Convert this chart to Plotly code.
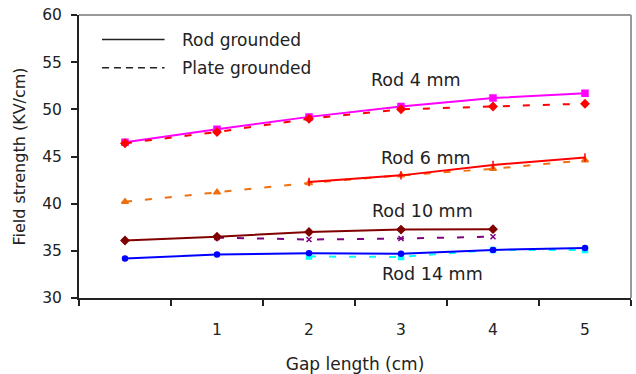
import plotly.graph_objects as go

# Data
categories = ["0.5", "1", "2", "3", "4", "5"]
tick_labels = ["", "1", "2", "3", "4", "5"]

rod4_rod = [46.5, 47.9, 49.2, 50.3, 51.2, 51.7]
rod4_plate = [46.4, 47.6, 49.0, 50.0, 50.3, 50.6]
rod6_rod = [None, None, 42.3, 43.0, 44.1, 44.9]
rod6_plate = [40.2, 41.2, 42.2, 43.0, 43.7, 44.6]
rod10_rod = [36.1, 36.5, 37.0, 37.25, 37.3, None]
rod10_plate = [None, 36.4, 36.2, 36.3, 36.5, None]
rod14_rod = [34.2, 34.6, 34.75, 34.7, 35.1, 35.3]
rod14_plate = [None, None, 34.4, 34.35, 35.1, 35.1]

series = [
    (rod4_rod, "#FF00FF", "solid", "square", 6),
    (rod4_plate, "#FF0000", "7px,13px", "diamond", 6),
    (rod6_plate, "#F07010", "7px,13px", "triangle-up", 6),
    (rod6_rod, "#FF0000", "solid", "line-ns-open", 6),
    (rod10_plate, "#800080", "7px,13px", "x-thin-open", 5),
    (rod10_rod, "#800000", "solid", "diamond", 6),
    (rod14_plate, "#00FFFF", "7px,13px", "square", 5),
    (rod14_rod, "#0000FF", "solid", "circle", 5),
]

FONT = "DejaVu Sans"
TXT = "#222222"

fig = go.Figure()
for vals, col, dash, sym, sz in series:
    fig.add_trace(go.Scatter(
        x=categories, y=vals, mode="lines+markers",
        line=dict(color=col, width=2, dash=dash),
        marker=dict(symbol=sym, size=sz, color=col, line=dict(color=col, width=1.5)),
        showlegend=False, connectgaps=False,
    ))

fig.update_layout(
    width=636, height=374,
    margin=dict(l=79, r=5, t=15, b=76),
    paper_bgcolor="white", plot_bgcolor="white",
    font=dict(family=FONT, color=TXT, size=15),
    xaxis=dict(
        type="category", range=[-0.5, 5.5], automargin=False,
        tickmode="array", tickvals=categories, ticktext=tick_labels,
        tickson="boundaries", ticks="outside", ticklen=6, tickcolor=TXT, tickwidth=2,
        ticklabelstandoff=16,
        showline=True, linecolor=TXT, linewidth=2, showgrid=False,
        tickfont=dict(size=15.5, family=FONT, color=TXT),
        title=dict(text="Gap length (cm)", font=dict(size=17, family=FONT, color=TXT), standoff=22),
    ),
    yaxis=dict(
        range=[30, 60], dtick=5, ticks="outside", ticklen=6, tickcolor=TXT, tickwidth=2,
        ticklabelstandoff=6, automargin=False,
        showline=True, linecolor=TXT, linewidth=2, showgrid=False,
        tickfont=dict(size=15.5, family=FONT, color=TXT),
        title=dict(text="Field strength (KV/cm)", font=dict(size=16, family=FONT, color=TXT), standoff=13),
    ),
)

# gray frame on top and right
fig.add_shape(type="line", xref="paper", yref="paper", x0=0, x1=1, y0=1, y1=1,
              line=dict(color="#999999", width=2))
fig.add_shape(type="line", xref="paper", yref="paper", x0=1, x1=1, y0=0, y1=1,
              line=dict(color="#999999", width=2))

# Legend drawn manually
fig.add_shape(type="line", xref="x", yref="y", x0=-0.25, x1=0.43, y0=57.4, y1=57.4,
              line=dict(color=TXT, width=1.5))
fig.add_shape(type="line", xref="x", yref="y", x0=-0.25, x1=0.43, y0=54.4, y1=54.4,
              line=dict(color=TXT, width=1.5, dash="7px,5px"))
fig.add_annotation(x=0.6, y=57.4, xref="x", yref="y", text="Rod grounded", showarrow=False,
                   xanchor="left", font=dict(size=17, family=FONT, color=TXT))
fig.add_annotation(x=0.6, y=54.4, xref="x", yref="y", text="Plate grounded", showarrow=False,
                   xanchor="left", font=dict(size=17, family=FONT, color=TXT))

labels = [("Rod 4 mm", 3.16, 53.1), ("Rod 6 mm", 3.27, 44.8), ("Rod 10 mm", 3.23, 39.2),
          ("Rod 14 mm", 3.34, 32.5)]
for t, xx, yy in labels:
    fig.add_annotation(x=xx, y=yy, xref="x", yref="y", text=t, showarrow=False,
                       font=dict(size=17.5, family=FONT, color=TXT))

fig.write_html("out.html")
